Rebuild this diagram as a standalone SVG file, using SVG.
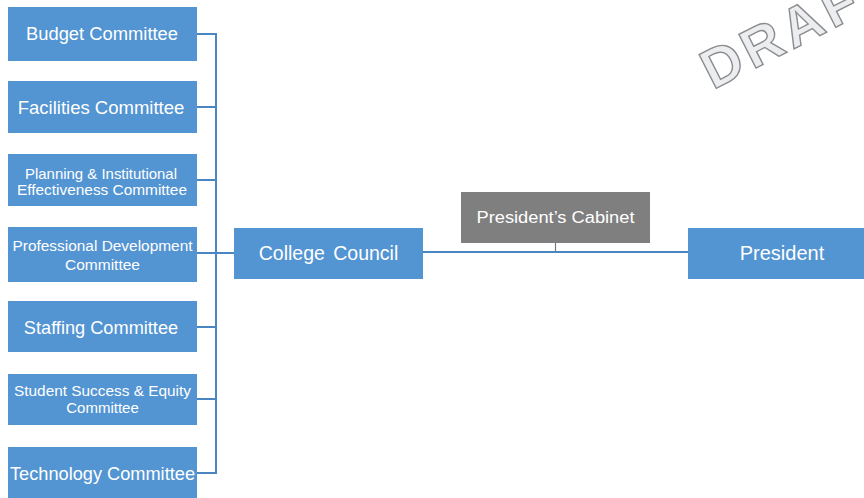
<svg xmlns="http://www.w3.org/2000/svg" width="864" height="498" viewBox="0 0 864 498">
  <style>
    .box { fill: #5394D2; }
    .gbox { fill: #7F7F7F; }
    .t { font-family: "Liberation Sans", Arial, sans-serif; fill: #FFFFFF; text-anchor: middle; }
    .conn { stroke: #4A86C2; stroke-width: 2; fill: none; }
    .tick { stroke: #6E7C8C; stroke-width: 1.2; fill: none; }
    .wm { font-family: "Liberation Sans", Arial, sans-serif; font-weight: bold; font-size: 55px; fill: #ECEDEF; stroke: #8A8C90; stroke-width: 1.4; letter-spacing: 5px; }
  </style>
  <rect width="864" height="498" fill="#FFFFFF"/>

  <g id="watermark">
    <text class="wm" x="713" y="90" transform="rotate(-27 713 90)">DRAFT</text>
  </g>

  <g id="connectors">
    <path class="conn" d="M197 34 H216 M197 107 H216 M197 180 H216 M197 253 H234 M197 327 H216 M197 399 H216 M197 473 H216 M216 33 V474"/>
    <path class="conn" d="M423 252 H688"/>
    <path class="tick" d="M555.5 243 V252"/>
  </g>

  <g id="budget">
    <rect class="box" x="8" y="7" width="189" height="54"/>
    <text class="t" x="102" y="39.5" font-size="17.5" textLength="152" lengthAdjust="spacingAndGlyphs">Budget Committee</text>
  </g>
  <g id="facilities">
    <rect class="box" x="8" y="81" width="189" height="52"/>
    <text class="t" x="101" y="113.5" font-size="18.5">Facilities Committee</text>
  </g>
  <g id="planning">
    <rect class="box" x="8" y="154" width="189" height="52"/>
    <text class="t" x="101" y="178.5" font-size="14.5" textLength="152" lengthAdjust="spacingAndGlyphs">Planning &amp; Institutional</text>
    <text class="t" x="102" y="194.5" font-size="14.5" textLength="170" lengthAdjust="spacingAndGlyphs">Effectiveness Committee</text>
  </g>
  <g id="professional">
    <rect class="box" x="8" y="227" width="189" height="55"/>
    <text class="t" x="102.5" y="251" font-size="15.5" textLength="180" lengthAdjust="spacingAndGlyphs">Professional Development</text>
    <text class="t" x="102.5" y="270" font-size="15.5">Committee</text>
  </g>
  <g id="staffing">
    <rect class="box" x="8" y="301" width="189" height="51"/>
    <text class="t" x="101" y="333.5" font-size="18.2">Staffing Committee</text>
  </g>
  <g id="student">
    <rect class="box" x="8" y="374" width="189" height="51"/>
    <text class="t" x="102.5" y="396" font-size="15" textLength="177" lengthAdjust="spacingAndGlyphs">Student Success &amp; Equity</text>
    <text class="t" x="102.5" y="412.5" font-size="15">Committee</text>
  </g>
  <g id="technology">
    <rect class="box" x="8" y="447" width="189" height="53"/>
    <text class="t" x="102.5" y="479.5" font-size="18.2">Technology Committee</text>
  </g>
  <g id="college-council">
    <rect class="box" x="234" y="228" width="189" height="51"/>
    <text class="t" x="328.5" y="260" font-size="19.5" word-spacing="3">College Council</text>
  </g>
  <g id="presidents-cabinet">
    <rect class="gbox" x="461" y="192" width="189" height="51"/>
    <text class="t" x="555.5" y="222.5" font-size="16" textLength="158" lengthAdjust="spacingAndGlyphs">President’s Cabinet</text>
  </g>
  <g id="president">
    <rect class="box" x="688" y="228" width="189" height="51"/>
    <text class="t" x="782" y="259.5" font-size="20">President</text>
  </g>
</svg>
